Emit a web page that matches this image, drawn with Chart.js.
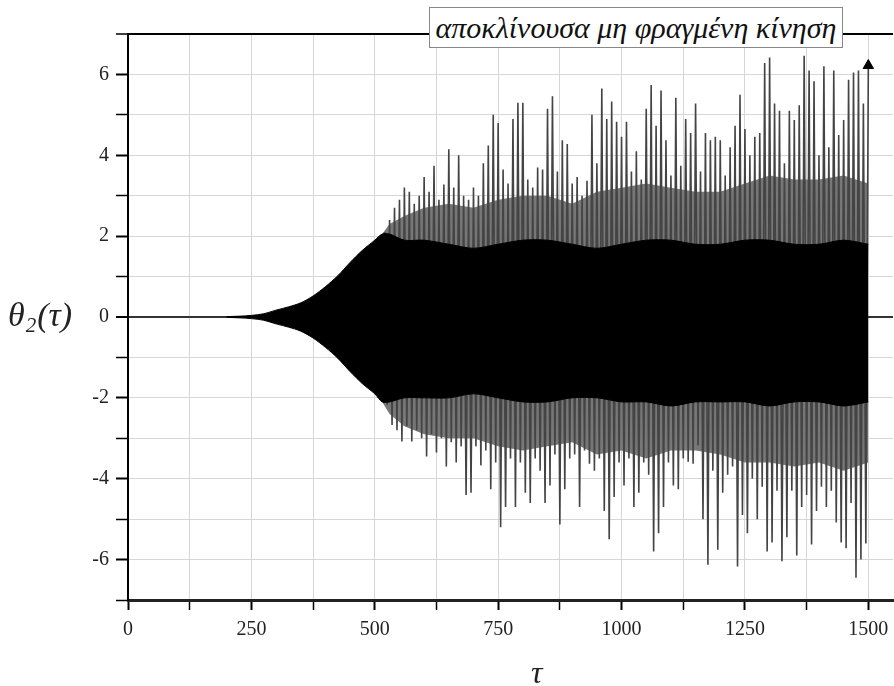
<!DOCTYPE html>
<html><head><meta charset="utf-8">
<script src="https://cdn.jsdelivr.net/npm/chart.js@4.4.1/dist/chart.umd.min.js"></script>
<style>
html,body{margin:0;padding:0;overflow:hidden;background:#fff;width:894px;height:686px}
#wrap{position:absolute;left:0;top:0;width:900px;height:686px}
.serif{font-family:"Liberation Serif","Times New Roman","DejaVu Serif",serif;font-style:italic}
#boxTitle{position:absolute;left:429px;top:7px;width:412px;height:39px;border:1px solid #888;background:#fff;font-size:30px;line-height:39px;text-align:center;color:#111;white-space:nowrap;z-index:2;overflow:hidden}
#yTitle{position:absolute;left:8px;top:296px;font-size:34px;color:#222;white-space:nowrap}
#yTitle sub{font-size:21px;position:relative;top:6px;vertical-align:baseline;margin:0 1px}
#xTitle{position:absolute;left:531px;top:654px;font-size:32px;color:#222}
</style></head>
<body>
<div id="wrap"><canvas id="c"></canvas></div>
<div id="boxTitle" class="serif">αποκλίνουσα μη φραγμένη κίνηση</div>
<div id="yTitle" class="serif">θ<sub>2</sub>(τ)</div>
<div id="xTitle" class="serif">τ</div>
<script>
// axis tick labels
const xTickLabels = [0, 250, 500, 750, 1000, 1250, 1500];
const yTickLabels = [-6, -4, -2, 0, 2, 4, 6];

// smooth growth / dense black core of the oscillation
const coreTau = [200,225,250,275,300,325,350,375,400,425,450,475,500,515,530,560,600,650,700,750,800,850,900,950,1000,1050,1100,1150,1200,1250,1300,1350,1400,1450,1500];
const coreUp  = [0.01,0.02,0.04,0.08,0.17,0.25,0.35,0.52,0.75,1.02,1.35,1.65,1.9,2.05,2.05,1.9,1.9,1.8,1.7,1.8,1.9,1.9,1.8,1.7,1.8,1.9,1.9,1.8,1.8,1.9,1.9,1.8,1.8,1.9,1.8];
const coreLo  = [-0.01,-0.02,-0.04,-0.08,-0.17,-0.25,-0.35,-0.52,-0.75,-1.02,-1.35,-1.65,-1.9,-2.1,-2.1,-2.0,-2.0,-2.0,-1.9,-2.0,-2.1,-2.1,-2.0,-2.0,-2.1,-2.1,-2.2,-2.1,-2.1,-2.1,-2.2,-2.1,-2.1,-2.2,-2.1];

// envelope of the dense grey texture around the core
const midTau = [515,530,560,600,650,700,750,800,850,900,950,1000,1050,1100,1150,1200,1250,1300,1350,1400,1450,1500];
const midUp  = [2.05,2.3,2.5,2.7,2.8,2.7,2.9,3.0,3.0,2.8,3.1,3.2,3.3,3.2,3.1,3.1,3.3,3.5,3.4,3.4,3.5,3.3];
const midLo  = [-2.1,-2.4,-2.7,-2.9,-3.0,-3.0,-3.2,-3.3,-3.2,-3.1,-3.4,-3.3,-3.5,-3.3,-3.3,-3.4,-3.6,-3.6,-3.7,-3.6,-3.8,-3.6];

// upper peaks of the oscillation (tau, value)
const peakUpTau = [520,530,540,550,560,570,580,590,600,610,620,630,640,650,660,670,680,690,700,710,720,730,740,750,760,770,780,790,800,810,820,830,840,850,860,870,880,890,900,910,920,930,940,950,960,970,980,990,1000,1010,1020,1030,1040,1050,1060,1070,1080,1090,1100,1110,1120,1130,1140,1150,1160,1170,1180,1190,1200,1210,1220,1230,1240,1250,1260,1270,1280,1290,1300,1310,1320,1330,1340,1350,1360,1370,1380,1390,1400,1410,1420,1430,1440,1450,1460,1470,1480,1490,1500];
const peakUp = [2.1,2.4,2.7,2.9,3.2,3.1,2.8,3.0,3.46,3.1,3.74,2.9,3.28,4.15,3.2,4.0,3.0,2.9,3.2,3.0,3.8,4.24,5.0,4.8,3.65,3.3,4.9,5.3,5.3,3.4,3.2,3.7,3.65,5.15,5.46,3.6,4.37,4.28,3.3,3.46,3.0,3.37,5.0,3.8,5.65,4.9,5.33,4.83,4.46,4.83,3.6,4.1,3.4,5.15,5.74,4.73,5.6,4.37,3.5,5.42,3.74,4.9,4.55,5.28,3.6,4.55,4.37,4.46,4.37,3.5,4.2,4.73,5.5,4.65,4.0,4.46,4.55,6.28,6.42,5.28,5.1,3.8,5.1,4.87,5.24,6.46,6.1,5.83,4.0,6.2,4.2,6.1,4.5,4.87,5.87,6.05,6.1,5.28,6.2];

// lower peaks of the oscillation (tau, value)
const peakLoTau = [525,535,545,555,565,575,585,595,605,615,625,635,645,655,665,675,685,695,705,715,725,735,745,755,765,775,785,795,805,815,825,835,845,855,865,875,885,895,905,915,925,935,945,955,965,975,985,995,1005,1015,1025,1035,1045,1055,1065,1075,1085,1095,1105,1115,1125,1135,1145,1155,1165,1175,1185,1195,1205,1215,1225,1235,1245,1255,1265,1275,1285,1295,1305,1315,1325,1335,1345,1355,1365,1375,1385,1395,1405,1415,1425,1435,1445,1455,1465,1475,1485,1495];
const peakLo = [-2.17,-2.67,-2.8,-3.08,-2.7,-3.08,-2.8,-3.0,-3.45,-2.9,-3.35,-3.0,-3.7,-3.1,-3.6,-3.2,-4.4,-4.35,-3.2,-3.67,-3.3,-4.26,-3.6,-5.2,-4.7,-3.5,-4.7,-3.6,-4.35,-4.6,-3.5,-3.8,-4.6,-4.17,-3.4,-5.13,-4.26,-3.5,-3.4,-4.7,-3.3,-3.63,-3.8,-3.5,-4.8,-5.5,-4.45,-3.6,-4.17,-3.5,-4.7,-4.35,-3.6,-3.9,-5.8,-5.35,-4.7,-3.6,-4.17,-4.26,-3.5,-3.58,-3.63,-3.17,-5.0,-6.13,-3.8,-5.76,-4.35,-3.9,-3.7,-6.17,-4.9,-5.35,-4.0,-5.0,-4.2,-5.8,-5.58,-4.3,-6.04,-5.45,-4.3,-5.9,-4.7,-4.4,-5.63,-4.8,-4.2,-4.7,-4.3,-5.08,-5.58,-5.72,-4.6,-6.45,-6.0,-5.6];

// end of the trace (arrow)
const arrowTau = [1500];
const arrowVal = [6.22];

// build datasets from the arrays
const pts = (xs, ys) => xs.map((x, i) => ({x, y: ys[i]}));
const signal = [];
peakUpTau.forEach((t, i) => {
  signal.push({x: t, y: peakUp[i]});
  if (i < peakLoTau.length) signal.push({x: peakLoTau[i], y: peakLo[i]});
});

const FONT = '"Liberation Serif", "Times New Roman", "DejaVu Serif", serif';
const gridCol = '#d6d6d6';
new Chart(document.getElementById('c'), {
  type: 'line',
  data: { datasets: [
    {label: 'arrow', data: pts(arrowTau, arrowVal), showLine: false, pointStyle: 'triangle', pointRadius: 6, pointBackgroundColor: '#000', pointBorderColor: '#000', order: 0},
    {label: 'coreUp', data: pts(coreTau, coreUp), borderColor: '#000', borderWidth: 1, pointRadius: 0, fill: false, tension: 0.3, order: 1},
    {label: 'coreLo', data: pts(coreTau, coreLo), borderColor: '#000', borderWidth: 1, pointRadius: 0, fill: '-1', backgroundColor: '#000', tension: 0.3, order: 1},
    {label: 'signal', data: signal, borderColor: '#444', borderWidth: 1.6, pointRadius: 0, fill: false, tension: 0, order: 2},
    {label: 'midUp', data: pts(midTau, midUp), borderColor: 'rgba(0,0,0,0)', borderWidth: 0, pointRadius: 0, fill: false, tension: 0, order: 3},
    {label: 'midLo', data: pts(midTau, midLo), borderColor: 'rgba(0,0,0,0)', borderWidth: 0, pointRadius: 0, fill: '-1', backgroundColor: '#777', tension: 0, order: 3}
  ]},
  options: {
    animation: false, responsive: true, maintainAspectRatio: false,
    layout: {padding: {left: 0, top: 34, right: 5, bottom: 0}},
    plugins: {legend: {display: false}, tooltip: {enabled: false}},
    scales: {
      x: {
        type: 'linear', min: 0, max: 1550,
        afterFit: s => { s.height = 86; },
        ticks: {stepSize: 125, autoSkip: false, includeBounds: false, maxRotation: 0, padding: 8,
          callback: v => xTickLabels.includes(v) ? String(v) : '',
          font: {family: FONT, size: 20}, color: '#222'},
        grid: {color: gridCol, lineWidth: 1, tickLength: 10, tickColor: '#000',
          tickWidth: c => (c.tick && c.tick.value % 250 === 0) ? 2 : 1.5},
        border: {color: '#222', width: 3}
      },
      y: {
        min: -7, max: 7,
        afterFit: s => { s.width = 128; },
        ticks: {stepSize: 1, autoSkip: false, padding: 7,
          callback: v => yTickLabels.includes(v) ? String(v) : '',
          font: {family: FONT, size: 20}, color: '#222'},
        grid: {
          color: c => c.tick.value === 7 ? '#000' : (c.tick.value === 0 ? '#333' : gridCol),
          lineWidth: c => (c.tick.value === 7 || c.tick.value === 0) ? 2 : 1,
          tickLength: 12, tickColor: '#000',
          tickWidth: c => (c.tick && c.tick.value % 2 === 0) ? 2 : 1.5},
        border: {color: '#000', width: 2}
      }
    }
  }
});
</script>
</body></html>
